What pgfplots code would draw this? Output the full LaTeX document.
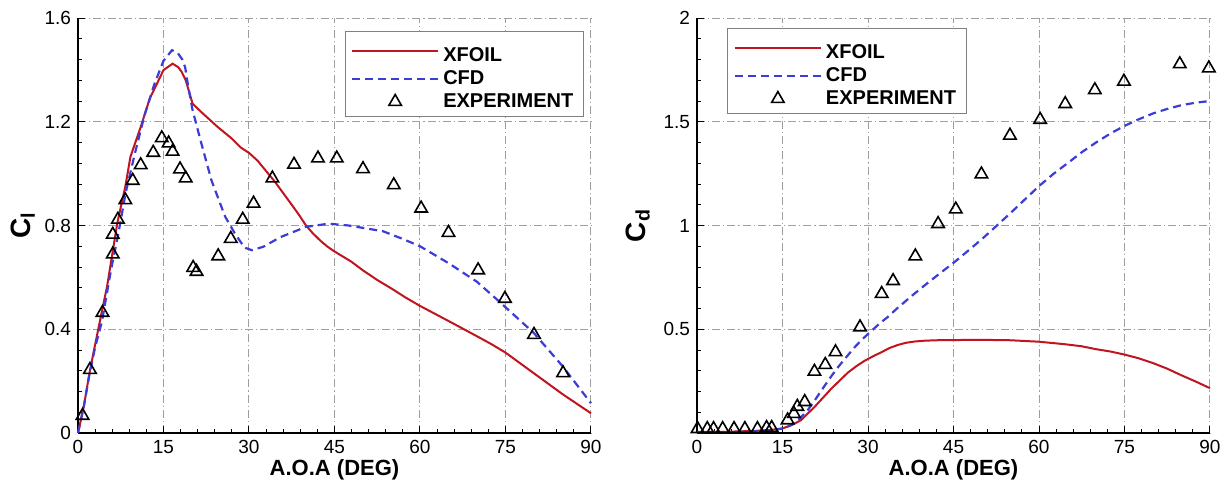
\documentclass[border=0pt]{standalone}
\usepackage{pgfplots}
\pgfplotsset{compat=1.18}
\usepackage{fontspec}
\setmainfont{Liberation Sans}
\definecolor{xred}{RGB}{192,20,30}
\definecolor{cblue}{RGB}{60,60,215}
\begin{document}
\begin{tikzpicture}
\pgfplotsset{
  aoa/.style={
    width=256.5pt, height=207.5pt, scale only axis,
    axis lines=left, axis line style={-, line width=0.75pt},
    xmin=0, xmax=90, xtick={0,15,...,90},
    minor x tick num=4, minor y tick num=4,
    tick align=inside, major tick length=3.5pt, minor tick length=2pt,
    tick style={black, line width=0.5pt},
    grid=major,
    grid style={gray!75, line width=0.5pt, dash pattern=on 4pt off 1.5pt on 0.6pt off 1.5pt},
    tick label style={font=\fontsize{9.5}{11}\selectfont},
    xlabel style={font=\fontsize{11}{13}\selectfont\bfseries, yshift=4pt},
    ylabel style={font=\fontsize{14}{16}\selectfont\bfseries},
    /pgf/number format/assume math mode=true,
    xlabel={A.O.A (DEG)},
    clip=false,
    legend cell align=left,
    legend style={draw=gray, line width=0.5pt, inner xsep=3pt, inner ysep=1.5pt,
      row sep=0pt, nodes={inner ysep=1.5pt},
      font=\fontsize{10}{11}\selectfont\bfseries},
  },
  xfoil/.style={xred, line width=1pt,
    legend image code/.code={\draw[##1] (0pt,0pt) -- (43pt,0pt);}},
  cfd/.style={cblue, line width=1.1pt, dash pattern=on 4pt off 2.5pt,
    legend image code/.code={\draw[##1] (0pt,0pt) -- (43pt,0pt);}},
  expt/.style={only marks, mark=triangle, mark size=3.6pt,
    mark options={black, line width=0.8pt, fill=none},
    legend image code/.code={\draw[##1] plot coordinates {(21.5pt,0pt)};}},
}
% ---- lift coefficient ----
\begin{axis}[aoa, at={(39pt,23pt)}, anchor=south west,
  ymin=0, ymax=1.6, ytick={0,0.4,0.8,1.2,1.6},
  yticklabels={0,0.4,0.8,1.2,1.6},
  ylabel={C\textsubscript{l}}, ylabel shift=-2pt,
  legend style={at={(rel axis cs:0.986,0.969)}, anchor=north east},
]
\addplot[xfoil] coordinates {
(0,0) (1,0.1) (2,0.23) (3,0.34) (4.2,0.47) (5.1,0.565) (6.9,0.81) (8.3,0.95)
(9.2,1.065) (11,1.18) (12.6,1.29) (15,1.399) (16.6,1.424) (17.6,1.41)
(18.2,1.392) (18.9,1.36) (20.1,1.27) (21.6,1.238) (24.5,1.18) (27,1.135)
(28.6,1.10) (30,1.08) (31.5,1.05) (33,1.01) (34.5,0.97) (36,0.925)
(37.5,0.88) (38.8,0.84) (40,0.80) (41.2,0.77) (42.5,0.742) (43.8,0.718)
(45,0.70) (46.5,0.68) (48,0.66) (50,0.627) (52.5,0.59) (55,0.557)
(57.5,0.522) (60,0.49) (65,0.432) (70,0.373) (72.5,0.343) (75,0.31)
(77.5,0.27) (80,0.23) (85,0.15) (90,0.076)};
\addlegendentry{\rule{0pt}{12pt}XFOIL}
\addplot[cfd] coordinates {
(0,0) (1,0.1) (2,0.225) (3,0.33) (4.2,0.43) (5,0.53) (5.8,0.63) (7,0.76)
(8.4,0.93) (9.9,1.07) (11.6,1.22) (13.4,1.345) (15,1.435) (16.5,1.476)
(17.5,1.465) (18.3,1.44) (18.8,1.41) (19.3,1.34) (20.1,1.245) (21.6,1.12)
(23.4,0.975) (25.8,0.835) (27.5,0.77) (29.2,0.715) (30.5,0.705) (32.5,0.718)
(35.5,0.755) (38,0.777) (40,0.795) (44,0.807) (47.5,0.80) (53.5,0.778)
(57,0.748) (60,0.72) (65,0.655) (70,0.583) (74,0.505) (77,0.445) (80,0.385)
(85,0.258) (90,0.115)};
\addlegendentry{CFD}
\addplot[expt] coordinates {
(0.8,0.067) (2.1,0.244) (4.3,0.464) (6.1,0.689) (6.1,0.765) (7.0,0.823)
(8.3,0.898) (9.6,0.973) (11.0,1.033) (13.2,1.081) (14.7,1.137) (15.9,1.117)
(16.6,1.085) (17.9,1.017) (18.9,0.982) (20.2,0.637) (20.8,0.622) (24.6,0.682)
(26.8,0.749) (28.9,0.823) (30.8,0.885) (34.1,0.982) (37.9,1.035) (42.1,1.059)
(45.4,1.059) (50.0,1.018) (55.4,0.956) (60.2,0.866) (65.0,0.772) (70.2,0.628)
(74.9,0.518) (80.0,0.379) (85.1,0.231)};
\addlegendentry{EXPERIMENT}
\end{axis}
% ---- drag coefficient ----
\begin{axis}[aoa, at={(348.5pt,23pt)}, anchor=south west,
  ymin=0, ymax=2, ytick={0,0.5,1,1.5,2},
  yticklabels={,0.5,1,1.5,2},
  ylabel={C\textsubscript{d}},
  legend style={at={(rel axis cs:0.059,0.976)}, anchor=north west},
]
\addplot[xfoil] coordinates {
(0,0.005) (5,0.006) (10,0.01) (13,0.015) (15,0.022) (16.5,0.037) (18.2,0.061)
(20.6,0.125) (23.5,0.212) (26.5,0.292) (28,0.323) (29.4,0.348) (30.9,0.37)
(32.4,0.39) (33.8,0.41) (35.3,0.425) (36.7,0.435) (38.2,0.441) (40,0.445)
(42,0.447) (45,0.448) (50,0.449) (55,0.447) (60,0.44) (64.5,0.428) (67.5,0.418)
(70,0.404) (72.5,0.393) (75,0.378) (77.5,0.36) (80,0.337) (82.5,0.31)
(85,0.278) (87.5,0.248) (90,0.216)};
\addlegendentry{\rule{0pt}{12pt}XFOIL}
\addplot[cfd] coordinates {
(0,0.003) (5,0.004) (10,0.008) (13,0.014) (14.7,0.02) (16,0.032) (17,0.045)
(18.2,0.075) (19.4,0.109) (20.6,0.155) (21.8,0.204) (23.2,0.26) (24.7,0.316)
(26.2,0.366) (27.6,0.412) (29,0.452) (30.6,0.492) (32,0.527) (33.5,0.56)
(35,0.598) (37.5,0.657) (40,0.713) (42.5,0.767) (45,0.82) (47.5,0.877)
(50,0.935) (52.5,0.997) (55,1.06) (57.5,1.125) (60,1.19) (62.5,1.248)
(65,1.30) (67.5,1.353) (70,1.40) (72.5,1.443) (75,1.48) (77.5,1.512)
(80,1.54) (82.5,1.562) (85,1.58) (87.5,1.592) (90,1.60)};
\addlegendentry{CFD}
\addplot[expt] coordinates {
(0.1,0.02) (1.8,0.02) (2.9,0.02) (4.5,0.02) (6.5,0.02) (8.4,0.02) (10.6,0.02)
(12.2,0.025) (13.1,0.025) (15.9,0.062) (17,0.093) (17.6,0.127) (18.9,0.15)
(20.6,0.296) (22.5,0.329) (24.3,0.39) (28.6,0.51) (32.4,0.671) (34.4,0.733)
(38.3,0.852) (42.3,1.008) (45.4,1.078) (49.9,1.247) (54.9,1.434) (60.2,1.51)
(64.6,1.586) (69.8,1.653) (74.9,1.694) (84.7,1.778) (89.8,1.758)};
\addlegendentry{EXPERIMENT}
\end{axis}
\pgfresetboundingbox
\path (0pt,0pt) rectangle (612.5pt,239.5pt);
\end{tikzpicture}
\end{document}
